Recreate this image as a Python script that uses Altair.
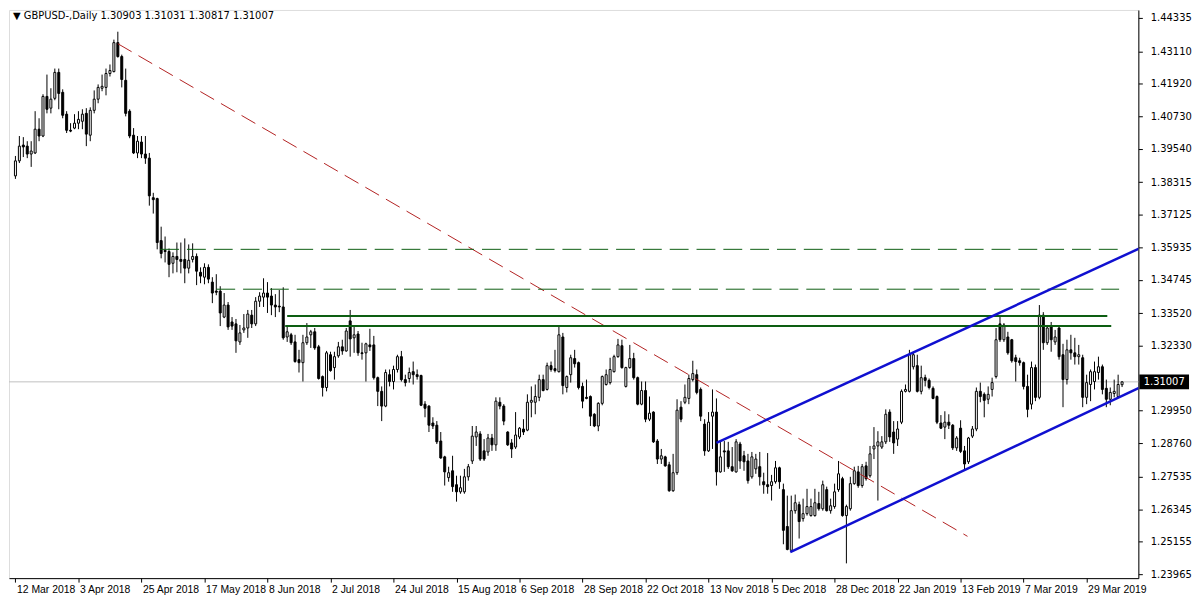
import altair as alt
import pandas as pd

# ---- daily candles (GBPUSD), bar index 0 = 12 Mar 2018 ----
opens = [
 1.3855,1.3910,1.3968,1.3964,1.3935,1.3939,1.4026,1.4001,1.4146,1.4103,
 1.4139,1.4234,1.4161,1.4081,1.4022,1.4030,1.4048,1.4055,1.4084,1.4004,
 1.4095,1.4136,1.4176,1.4179,1.4230,1.4237,1.4343,1.4292,1.4205,1.4092,
 1.4004,1.3939,1.3979,1.3935,1.3920,1.3775,1.3772,1.3618,1.3582,1.3578,
 1.3535,1.3560,1.3549,1.3549,1.3517,1.3549,1.3560,1.3502,1.3484,1.3520,
 1.3466,1.3433,1.3433,1.3338,1.3382,1.3320,1.3313,1.3247,1.3291,1.3298,
 1.3345,1.3313,1.3396,1.3411,1.3426,1.3415,1.3382,1.3378,1.3375,1.3265,
 1.3273,1.3247,1.3182,1.3171,1.3244,1.3273,1.3284,1.3229,1.3120,1.3080,
 1.3200,1.3153,1.3196,1.3229,1.3214,1.3324,1.3262,1.3276,1.3207,1.3207,
 1.3236,1.3236,1.3116,1.3066,1.3012,1.3127,1.3102,1.3146,1.3193,1.3109,
 1.3113,1.3138,1.3127,1.3124,1.3019,1.3012,1.2950,1.2942,1.2884,1.2826,
 1.2750,1.2775,1.2724,1.2698,1.2698,1.2753,1.2811,1.2899,1.2910,1.2848,
 1.2844,1.2895,1.2870,1.3026,1.3012,1.2917,1.2877,1.2862,1.2899,1.2928,
 1.2924,1.3026,1.3026,1.3044,1.3109,1.3073,1.3160,1.3149,1.3138,1.3265,
 1.3080,1.3127,1.3186,1.3171,1.3084,1.3044,1.3047,1.2982,1.2939,1.3022,
 1.3091,1.3098,1.3138,1.3193,1.3233,1.3084,1.3153,1.3186,1.3116,1.3019,
 1.3069,1.2964,1.2990,1.2884,1.2818,1.2826,1.2797,1.2702,1.2768,1.3008,
 1.3026,1.3040,1.3109,1.3127,1.3073,1.2946,1.2848,1.2975,1.2990,1.2771,
 1.2848,1.2848,1.2790,1.2771,1.2873,1.2830,1.2811,1.2753,1.2782,1.2790,
 1.2735,1.2724,1.2721,1.2735,1.2786,1.2706,1.2571,1.2484,1.2629,1.2651,
 1.2600,1.2618,1.2611,1.2611,1.2655,1.2636,1.2706,1.2629,1.2644,1.2706,
 1.2746,1.2611,1.2636,1.2728,1.2771,1.2721,1.2793,1.2757,1.2855,1.2866,
 1.2862,1.2881,1.2990,1.2917,1.2891,1.2953,1.3066,1.3066,1.3156,1.3160,
 1.3066,1.3116,1.3106,1.3077,1.3047,1.2950,1.2935,1.2953,1.2942,1.2859,
 1.2931,1.2848,1.2808,1.2902,1.2928,1.3066,1.3055,1.3037,1.3073,1.3120,
 1.3313,1.3255,1.3265,1.3255,1.3189,1.3178,1.3171,1.3084,1.3019,1.3153,
 1.3044,1.3345,1.3244,1.3302,1.3247,1.3298,1.3200,1.3109,1.3218,1.3207,
 1.3193,1.3189,1.3044,1.3091,1.3102,1.3135,1.3156,1.3077,1.3037,1.3058,
 1.3047,1.30903]
highs = [
 1.3928,1.4001,1.3997,1.3982,1.3982,1.4092,1.4066,1.4154,1.4226,1.4176,
 1.4248,1.4248,1.4172,1.4092,1.4048,1.4081,1.4092,1.4099,1.4103,1.4106,
 1.4168,1.4190,1.4226,1.4248,1.4263,1.4354,1.4383,1.4299,1.4248,1.4099,
 1.4030,1.4001,1.4001,1.4001,1.3939,1.3793,1.3775,1.3669,1.3633,1.3589,
 1.3575,1.3611,1.3611,1.3626,1.3604,1.3608,1.3571,1.3520,1.3535,1.3531,
 1.3484,1.3495,1.3451,1.3426,1.3393,1.3338,1.3331,1.3309,1.3349,1.3364,
 1.3364,1.3411,1.3429,1.3480,1.3466,1.3444,1.3422,1.3437,1.3447,1.3305,
 1.3280,1.3273,1.3218,1.3273,1.3316,1.3291,1.3298,1.3236,1.3124,1.3214,
 1.3211,1.3211,1.3247,1.3255,1.3298,1.3364,1.3302,1.3287,1.3244,1.3244,
 1.3295,1.3269,1.3120,1.3084,1.3146,1.3146,1.3160,1.3200,1.3214,1.3127,
 1.3153,1.3175,1.3146,1.3127,1.3030,1.3015,1.2971,1.2957,1.2917,1.2830,
 1.2790,1.2830,1.2757,1.2757,1.2782,1.2800,1.2939,1.2939,1.2920,1.2891,
 1.2910,1.2910,1.3044,1.3044,1.3019,1.2920,1.2891,1.2990,1.2935,1.2964,
 1.3055,1.3084,1.3091,1.3127,1.3127,1.3171,1.3175,1.3218,1.3302,1.3280,
 1.3124,1.3200,1.3218,1.3175,1.3098,1.3109,1.3051,1.2986,1.3026,1.3124,
 1.3146,1.3189,1.3200,1.3258,1.3255,1.3156,1.3236,1.3207,1.3120,1.3102,
 1.3102,1.3047,1.2993,1.2891,1.2855,1.2830,1.2808,1.2837,1.3037,1.3030,
 1.3091,1.3127,1.3178,1.3146,1.3080,1.2964,1.2990,1.3073,1.3040,1.2881,
 1.2884,1.2881,1.2862,1.2891,1.2881,1.2848,1.2837,1.2844,1.2837,1.2844,
 1.2768,1.2840,1.2760,1.2811,1.2790,1.2728,1.2684,1.2684,1.2688,1.2662,
 1.2673,1.2709,1.2673,1.2709,1.2698,1.2739,1.2717,1.2673,1.2728,1.2811,
 1.2753,1.2651,1.2753,1.2790,1.2793,1.2800,1.2808,1.2866,1.2935,1.2920,
 1.2902,1.3000,1.3000,1.2957,1.2957,1.3073,1.3091,1.3218,1.3211,1.3200,
 1.3160,1.3127,1.3113,1.3084,1.3051,1.2979,1.2993,1.2982,1.2946,1.2902,
 1.2960,1.2866,1.2899,1.2939,1.3080,1.3098,1.3062,1.3084,1.3116,1.3298,
 1.3345,1.3316,1.3284,1.3258,1.3200,1.3189,1.3175,1.3127,1.3175,1.3164,
 1.3382,1.3356,1.3309,1.3320,1.3291,1.3305,1.3240,1.3255,1.3273,1.3262,
 1.3236,1.3200,1.3127,1.3146,1.3175,1.3193,1.3164,1.3109,1.3080,1.3109,
 1.3127,1.31031]
lows = [
 1.3844,1.3902,1.3924,1.3920,1.3888,1.3935,1.3982,1.3997,1.4084,1.4084,
 1.4132,1.4099,1.4066,1.4012,1.4015,1.4026,1.4026,1.4026,1.3964,1.3982,
 1.4084,1.4121,1.4165,1.4150,1.4219,1.4234,1.4288,1.4179,1.4073,1.3993,
 1.3935,1.3920,1.3920,1.3899,1.3746,1.3717,1.3586,1.3553,1.3538,1.3484,
 1.3498,1.3502,1.3498,1.3462,1.3498,1.3538,1.3455,1.3462,1.3458,1.3462,
 1.3389,1.3418,1.3305,1.3334,1.3291,1.3291,1.3207,1.3236,1.3280,1.3262,
 1.3298,1.3305,1.3375,1.3375,1.3353,1.3345,1.3338,1.3356,1.3255,1.3247,
 1.3236,1.3171,1.3135,1.3102,1.3236,1.3225,1.3218,1.3109,1.3047,1.3066,
 1.3138,1.3109,1.3189,1.3200,1.3211,1.3193,1.3207,1.3196,1.3182,1.3102,
 1.3214,1.3109,1.3012,1.2957,1.3008,1.3084,1.3073,1.3135,1.3102,1.3084,
 1.3098,1.3091,1.3109,1.3012,1.2971,1.2917,1.2928,1.2873,1.2819,1.2721,
 1.2735,1.2698,1.2662,1.2691,1.2691,1.2739,1.2800,1.2866,1.2811,1.2811,
 1.2830,1.2848,1.2848,1.3000,1.2942,1.2866,1.2822,1.2855,1.2891,1.2906,
 1.2920,1.2971,1.2982,1.3030,1.3066,1.3069,1.3138,1.3135,1.3135,1.3055,
 1.3062,1.3098,1.3153,1.3073,1.3004,1.3037,1.2939,1.2935,1.2920,1.3015,
 1.3087,1.3091,1.3135,1.3189,1.3149,1.3080,1.3149,1.3109,1.3015,1.3015,
 1.2953,1.2957,1.2877,1.2800,1.2800,1.2790,1.2698,1.2698,1.2760,1.2953,
 1.3019,1.3019,1.3102,1.3055,1.2957,1.2830,1.2844,1.2855,1.2721,1.2768,
 1.2771,1.2782,1.2771,1.2768,1.2782,1.2775,1.2728,1.2746,1.2764,1.2721,
 1.2691,1.2691,1.2666,1.2728,1.2709,1.2506,1.2484,1.2480,1.2618,1.2527,
 1.2589,1.2611,1.2607,1.2607,1.2629,1.2629,1.2626,1.2618,1.2636,1.2698,
 1.2607,1.2436,1.2629,1.2724,1.2713,1.2713,1.2739,1.2750,1.2818,1.2666,
 1.2855,1.2873,1.2881,1.2837,1.2866,1.2946,1.3062,1.3062,1.3146,1.3062,
 1.3055,1.3084,1.3073,1.3037,1.2946,1.2928,1.2891,1.2928,1.2851,1.2848,
 1.2840,1.2775,1.2800,1.2895,1.2920,1.3026,1.2971,1.3019,1.3047,1.3113,
 1.3247,1.3247,1.3200,1.3171,1.3102,1.3160,1.3073,1.2971,1.3000,1.3030,
 1.3037,1.3218,1.3236,1.3211,1.3236,1.3182,1.3008,1.3091,1.3182,1.3164,
 1.3164,1.3008,1.3019,1.3030,1.3073,1.3109,1.3055,1.3008,1.3015,1.3044,
 1.3044,1.30817]
closes = [
 1.3910,1.3964,1.3961,1.3935,1.3946,1.4026,1.4001,1.4146,1.4099,1.4136,
 1.4234,1.4157,1.4077,1.4022,1.4019,1.4048,1.4062,1.4081,1.4008,1.4095,
 1.4136,1.4179,1.4183,1.4230,1.4241,1.4343,1.4292,1.4208,1.4084,1.4001,
 1.3939,1.3982,1.3935,1.3920,1.3782,1.3768,1.3611,1.3571,1.3578,1.3531,
 1.3560,1.3549,1.3542,1.3517,1.3546,1.3560,1.3506,1.3488,1.3520,1.3477,
 1.3426,1.3429,1.3353,1.3382,1.3302,1.3305,1.3251,1.3280,1.3298,1.3349,
 1.3313,1.3396,1.3415,1.3426,1.3411,1.3382,1.3375,1.3375,1.3262,1.3284,
 1.3244,1.3175,1.3171,1.3244,1.3265,1.3284,1.3225,1.3113,1.3080,1.3207,
 1.3142,1.3193,1.3229,1.3214,1.3287,1.3258,1.3273,1.3207,1.3204,1.3240,
 1.3229,1.3116,1.3066,1.3012,1.3135,1.3102,1.3146,1.3193,1.3109,1.3098,
 1.3135,1.3127,1.3120,1.3015,1.3004,1.2942,1.2939,1.2881,1.2822,1.2771,
 1.2768,1.2717,1.2698,1.2713,1.2753,1.2790,1.2902,1.2917,1.2818,1.2818,
 1.2895,1.2870,1.3030,1.3012,1.2957,1.2870,1.2855,1.2906,1.2931,1.2917,
 1.3026,1.3033,1.3047,1.3109,1.3069,1.3160,1.3146,1.3142,1.3273,1.3087,
 1.3120,1.3189,1.3167,1.3080,1.3030,1.3040,1.2975,1.2939,1.3022,1.3120,
 1.3127,1.3146,1.3193,1.3236,1.3153,1.3153,1.3186,1.3116,1.3019,1.3069,
 1.2964,1.2986,1.2881,1.2818,1.2830,1.2793,1.2702,1.2768,1.2997,1.2964,
 1.3044,1.3113,1.3131,1.3062,1.2975,1.2848,1.2953,1.2990,1.2771,1.2826,
 1.2844,1.2790,1.2775,1.2881,1.2811,1.2808,1.2739,1.2826,1.2818,1.2753,
 1.2724,1.2717,1.2735,1.2786,1.2735,1.2557,1.2487,1.2629,1.2658,1.2589,
 1.2618,1.2644,1.2644,1.2658,1.2636,1.2724,1.2629,1.2647,1.2698,1.2764,
 1.2611,1.2644,1.2728,1.2775,1.2721,1.2790,1.2746,1.2837,1.2866,1.2881,
 1.2881,1.2982,1.2899,1.2877,1.2928,1.3066,1.3073,1.3200,1.3200,1.3066,
 1.3116,1.3106,1.3080,1.3040,1.2953,1.2931,1.2953,1.2942,1.2859,1.2895,
 1.2846,1.2800,1.2895,1.2928,1.3066,1.3047,1.3033,1.3055,1.3098,1.3255,
 1.3255,1.3309,1.3207,1.3178,1.3175,1.3171,1.3084,1.3000,1.3153,1.3044,
 1.3345,1.3244,1.3298,1.3255,1.3265,1.3193,1.3109,1.3218,1.3207,1.3193,
 1.3200,1.3044,1.3098,1.3138,1.3138,1.3156,1.3073,1.3037,1.3062,1.3066,
 1.3091,1.31007]

# ---- axis labels ----
date_labels = ["12 Mar 2018", "3 Apr 2018", "25 Apr 2018", "17 May 2018", "8 Jun 2018",
               "2 Jul 2018", "24 Jul 2018", "15 Aug 2018", "6 Sep 2018", "28 Sep 2018",
               "22 Oct 2018", "13 Nov 2018", "5 Dec 2018", "28 Dec 2018", "22 Jan 2019",
               "13 Feb 2019", "7 Mar 2019", "29 Mar 2019"]
date_label_bars = [16 * k for k in range(len(date_labels))]
price_ticks = [1.44335, 1.43110, 1.41920, 1.40730, 1.39540, 1.38315, 1.37125, 1.35935,
               1.34745, 1.33520, 1.32330, 1.29950, 1.28760, 1.27535, 1.26345, 1.25155, 1.23965]

# ---- drawn objects (bar index, price) ----
red_trend = {"x": [26], "x2": [241.75], "y": [1.4339], "y2": [1.2535]}
green_dashed = {"x": [36.75, 51.0], "x2": [280.25, 280.25], "y": [1.3586, 1.3440]}
green_solid = {"x": [69.0, 68.5], "x2": [277.25, 278.25], "y": [1.3342, 1.3305]}
blue_channel = {"x": [178.0, 196.75], "x2": [285.5, 285.5], "y": [1.2877, 1.2477], "y2": [1.3590, 1.3080]}
last_price = 1.31007
header = "\u25BC GBPUSD-,Daily  1.30903 1.31031 1.30817 1.31007"

W, H = 1137, 572
FONT = "DejaVu Sans"
XFONT = "Liberation Sans"

df = pd.DataFrame({"i": list(range(len(opens))), "open": opens, "high": highs,
                   "low": lows, "close": closes})

xs = alt.Scale(domain=[-0.375, W / 4 - 0.375], nice=False, zero=False)
ys = alt.Scale(domain=[1.23819, 1.44626], nice=False, zero=False)

xaxis = alt.Axis(values=date_label_bars, title=None, grid=False,
                 labelExpr="[" + ",".join("'%s'" % s for s in date_labels) + "][round(datum.value/16)]",
                 labelAlign="left", labelOffset=1, labelPadding=2, tickSize=4,
                 labelFont=XFONT, labelFontSize=10.5, labelColor="black",
                 domainColor="black", tickColor="black", labelOverlap=False)
yaxis = alt.Axis(values=price_ticks, format=".5f", orient="right", title=None, grid=False,
                 tickSize=4, labelPadding=8, labelFont=FONT, labelFontSize=10,
                 labelColor="black", domainColor="black", tickColor="black", labelOverlap=False)

base = alt.Chart(df)
X = alt.X("i:Q", scale=xs, axis=xaxis)

price_line = alt.Chart(pd.DataFrame({"p": [last_price]})).mark_rule(
    color="#c0c0c0", strokeWidth=1).encode(y=alt.Y("p:Q", scale=ys, axis=yaxis))

wicks = base.mark_rule(color="black", strokeWidth=1).encode(
    x=X, y=alt.Y("low:Q", scale=ys, axis=yaxis), y2="high:Q")

bodies = base.mark_bar(size=2, stroke="black", strokeWidth=1).encode(
    x=X, y=alt.Y("open:Q", scale=ys, axis=yaxis), y2="close:Q",
    fill=alt.condition("datum.close >= datum.open", alt.value("white"), alt.value("black")))

red = alt.Chart(pd.DataFrame(red_trend)).mark_rule(
    color="#b22222", strokeWidth=1, strokeDash=[16, 8]).encode(
    x=alt.X("x:Q", scale=xs, axis=xaxis), x2="x2:Q", y=alt.Y("y:Q", scale=ys, axis=yaxis), y2="y2:Q")

gd = alt.Chart(pd.DataFrame(green_dashed)).mark_rule(
    color="#0d5e12", strokeWidth=1, strokeDash=[19, 8]).encode(
    x=alt.X("x:Q", scale=xs, axis=xaxis), x2="x2:Q", y=alt.Y("y:Q", scale=ys, axis=yaxis))

gs = alt.Chart(pd.DataFrame(green_solid)).mark_rule(
    color="#0d5e12", strokeWidth=2).encode(
    x=alt.X("x:Q", scale=xs, axis=xaxis), x2="x2:Q", y=alt.Y("y:Q", scale=ys, axis=yaxis))

blue = alt.Chart(pd.DataFrame(blue_channel)).mark_rule(
    color="#1010d0", strokeWidth=2.5, clip=True).encode(
    x=alt.X("x:Q", scale=xs, axis=xaxis), x2="x2:Q", y=alt.Y("y:Q", scale=ys, axis=yaxis), y2="y2:Q")

tag_df = pd.DataFrame({"p": [last_price], "t": ["%.5f" % last_price]})
tag_box = alt.Chart(tag_df).mark_point(
    shape="M-1,-0.3L1,-0.3L1,0.3L-1,0.3Z", filled=True, color="black", opacity=1,
    size=2500).encode(x=alt.value(W + 26), y=alt.Y("p:Q", scale=ys, axis=yaxis))
tag_text = alt.Chart(tag_df).mark_text(
    color="white", font=FONT, fontSize=10, align="center", baseline="middle").encode(
    x=alt.value(W + 26), y=alt.Y("p:Q", scale=ys, axis=yaxis), text="t:N")

head = alt.Chart(pd.DataFrame({"t": [header]})).mark_text(
    align="left", baseline="middle", font=FONT, fontSize=10, color="black").encode(
    x=alt.value(4), y=alt.value(6), text="t:N")

chart = alt.layer(price_line, wicks, bodies, red, gd, gs, blue, tag_box, tag_text, head).properties(
    width=W, height=H, padding={"left": 0, "top": 0, "right": 0, "bottom": 0}
).configure_view(stroke="black", strokeWidth=1).configure(background="white")

chart.save("out.html", embed_options={"renderer": "svg", "actions": False})
